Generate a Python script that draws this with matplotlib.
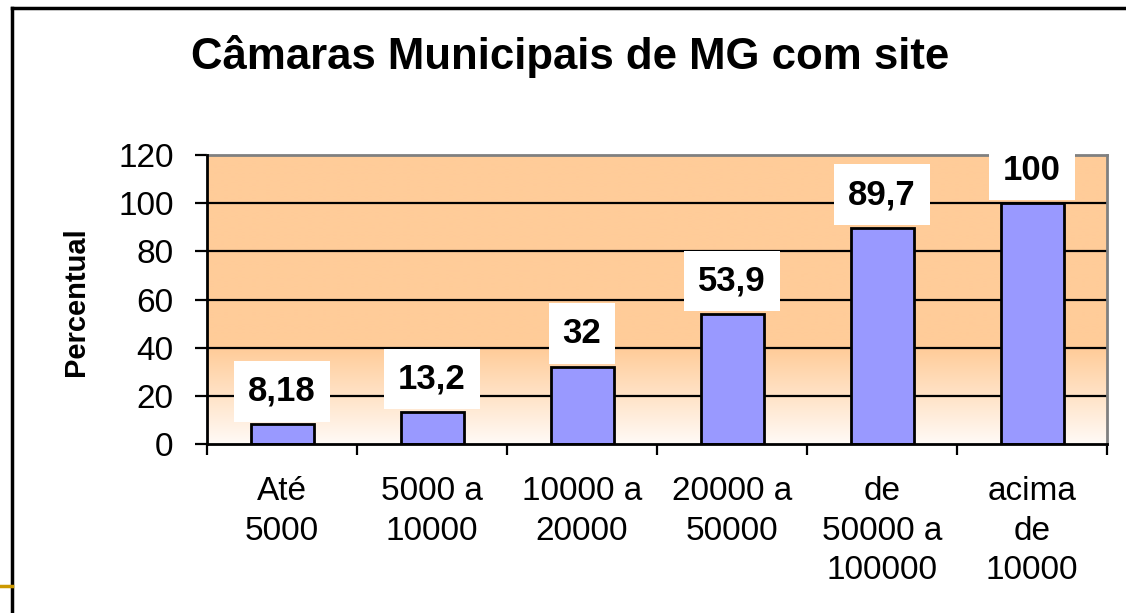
import numpy as np
import matplotlib
matplotlib.use("Agg")
import matplotlib.pyplot as plt
from matplotlib.colors import LinearSegmentedColormap
from matplotlib.lines import Line2D

categories = ["Até\n5000", "5000 a\n10000", "10000 a\n20000", "20000 a\n50000",
              "de\n50000 a\n100000", "acima\nde\n10000"]
values = [8.18, 13.2, 32, 53.9, 89.7, 100]
value_labels = ["8,18", "13,2", "32", "53,9", "89,7", "100"]
yticks = [0, 20, 40, 60, 80, 100, 120]
title = "Câmaras Municipais de MG com site"
ylabel = "Percentual"

W, H = 1126, 613
fig = plt.figure(figsize=(W / 100, H / 100), dpi=100)
plt.rcParams['font.family'] = ['Liberation Sans', 'DejaVu Sans']

ax = fig.add_axes([207 / W, 1 - 444 / H, 900 / W, 289 / H])
n = len(categories)
x = np.arange(n)
ax.set_xlim(-0.5, n - 0.5)
ax.set_ylim(0, 120)

# gradient background
cmap = LinearSegmentedColormap.from_list("bg", [(0, "#FFFAF6"), (0.33, "#FFCC99"), (1, "#FFCC99")])
grad = np.linspace(0, 1, 256).reshape(-1, 1)
ax.imshow(grad, extent=(-0.5, n - 0.5, 0, 120), origin="lower", aspect="auto",
          cmap=cmap, zorder=0, interpolation="bilinear")

# gridlines
for yv in yticks[1:-1]:
    ax.axhline(yv, color="black", lw=1.6, zorder=1)

ax.bar(x, values, width=0.42, color="#9999FF", edgecolor="black", linewidth=2, zorder=2)

for xi, v, lab in zip(x, values, value_labels):
    ax.annotate(lab, (xi, v), xytext=(0, 12), textcoords="offset points",
                ha="center", va="bottom", fontsize=25, fontweight="bold",
                bbox=dict(boxstyle="square,pad=0.4", fc="white", ec="none"),
                zorder=4, annotation_clip=False, clip_on=False)

for s in ["top", "right"]:
    ax.spines[s].set_color("#808080")
    ax.spines[s].set_linewidth(2)
for s in ["left", "bottom"]:
    ax.spines[s].set_color("black")
    ax.spines[s].set_linewidth(2)
    ax.spines[s].set_zorder(5)

ax.set_yticks(yticks)
ax.set_yticklabels([str(t) for t in yticks], fontsize=24)
ax.tick_params(axis="y", length=9, width=1.6, pad=15, color="black")

ax.set_xticks(np.arange(-0.5, n, 1.0))
ax.set_xticklabels([])
ax.tick_params(axis="x", which="major", length=8, width=1.6, color="black")
ax.set_xticks(x, minor=True)
ax.set_xticklabels(categories, minor=True, fontsize=24, linespacing=1.36)
ax.tick_params(axis="x", which="minor", length=0, pad=23)

fig.text(570 / W, 1 - 69 / H, title, ha="center", va="baseline",
         fontsize=31.5, fontweight="bold")
fig.text(76 / W, 1 - 302 / H, ylabel, rotation=90, ha="center", va="center",
         fontsize=21, fontweight="bold")

# outer frame (top and left) and small yellow line
fig.add_artist(Line2D([12 / W, 12 / W], [0, 1 - 8 / H], transform=fig.transFigure,
                      color="black", lw=2.5))
fig.add_artist(Line2D([12 / W, 1], [1 - 8 / H, 1 - 8 / H], transform=fig.transFigure,
                      color="black", lw=2.5))
fig.add_artist(Line2D([0, 12 / W], [1 - 586 / H, 1 - 586 / H], transform=fig.transFigure,
                      color="#CC9900", lw=2.5))

fig.savefig("out.png", dpi=100)
